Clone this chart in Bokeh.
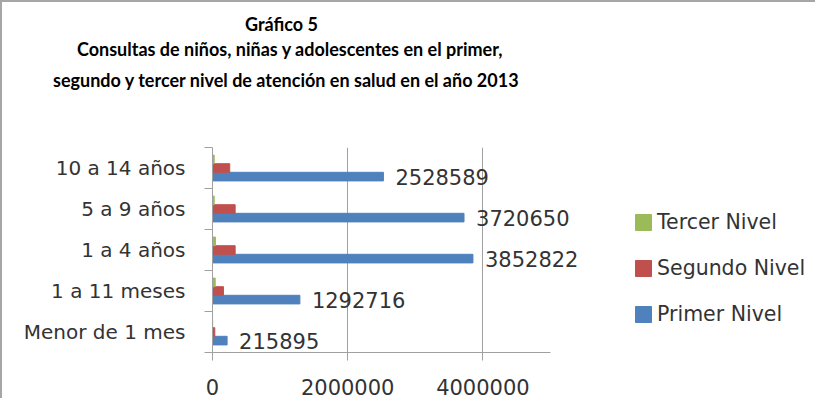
from bokeh.plotting import figure
from bokeh.models import (ColumnDataSource, Range1d, FixedTicker, NumeralTickFormatter,
                          Legend, LegendItem, LabelSet, Title)
from bokeh.core.properties import value
from bokeh.embed import file_html
from bokeh.resources import INLINE

categories = ["Menor de 1 mes", "1 a 11 meses", "1 a 4 años", "5 a 9 años", "10 a 14 años"]
primer_nivel = [215895, 1292716, 3852822, 3720650, 2528589]
segundo_nivel = [34000, 162000, 335000, 335000, 255000]
tercer_nivel = [2000, 40000, 45000, 25000, 25000]
x_ticks = [0, 2000000, 4000000]
x_max = 5000000
title_lines = ["Gráfico 5",
               "Consultas de niños, niñas y adolescentes en el primer,",
               "segundo y tercer nivel de atención en salud en el año 2013"]

BLUE, RED, GREEN = "#4F81BD", "#C0504D", "#9BBB59"
GRAY = "#a0a0a0"
TXT = "#333333"
FONT = "DejaVu Sans"
TFONT = "Lato"

# layout (pixels)
W, H = 815, 398
LEFT, TOP, BOTTOM = 210, 145, 48
AXIS_W = 338          # width of the value axis (0 .. x_max)
frame_w = W - LEFT

idx = list(range(len(categories)))
bar_h = 0.21
src = ColumnDataSource(dict(
    cat=categories,
    y1=[i + 0.5 - bar_h for i in idx],
    y2=[i + 0.5 for i in idx],
    y3=[i + 0.5 + bar_h for i in idx],
    primer=primer_nivel,
    segundo=segundo_nivel,
    tercer=tercer_nivel,
    lbl=[str(v) for v in primer_nivel],
))

p = figure(width=W, height=H, output_backend="svg", toolbar_location=None,
           x_range=Range1d(0, x_max * frame_w / AXIS_W), y_range=Range1d(0, len(categories)),
           min_border_left=LEFT, min_border_right=0, min_border_top=TOP, min_border_bottom=BOTTOM,
           styles={"border-top": "2px solid #a6a6a6", "border-left": "2px solid #a6a6a6"})
p.outline_line_color = None
p.background_fill_color = "white"
p.border_fill_color = "white"

r1 = p.hbar(y="y1", left=0, right="primer", height=bar_h, source=src, color=BLUE)
r2 = p.hbar(y="y2", left=0, right="segundo", height=bar_h, source=src, color=RED)
r3 = p.hbar(y="y3", left=0, right="tercer", height=bar_h, source=src, color=GREEN)

labels = LabelSet(x="primer", y="y1", text="lbl", source=src, x_offset=12,
                  text_baseline="middle", text_font=value(FONT),
                  text_font_size=value("21px"), text_color=TXT)
p.add_layout(labels)

# x axis
xa = p.xaxis[0]
xa.ticker = FixedTicker(ticks=x_ticks)
xa.formatter = NumeralTickFormatter(format="0")
xa.bounds = (0, x_max)
xa.axis_line_color = GRAY
xa.major_tick_line_color = GRAY
xa.major_tick_out = 8
xa.major_tick_in = 0
xa.minor_tick_line_color = None
xa.major_label_standoff = 18
xa.major_label_text_font = FONT
xa.major_label_text_font_size = "21px"
xa.major_label_text_color = TXT

# y axis
ya = p.yaxis[0]
ya.ticker = FixedTicker(ticks=[i + 0.5 for i in idx], minor_ticks=list(range(len(categories) + 1)))
ya.major_label_overrides = {i + 0.5: c for i, c in zip(idx, categories)}
ya.axis_line_color = GRAY
ya.major_tick_out = 0
ya.major_tick_in = 0
ya.major_tick_line_color = None
ya.minor_tick_line_color = GRAY
ya.minor_tick_out = 8
ya.minor_tick_in = 0
ya.major_label_standoff = 19
ya.major_label_text_font = FONT
ya.major_label_text_font_size = "20px"
ya.major_label_text_color = TXT

p.xgrid.ticker = FixedTicker(ticks=x_ticks)
p.xgrid.grid_line_color = GRAY
p.ygrid.grid_line_color = None

legend = Legend(items=[
    LegendItem(label="Tercer Nivel", renderers=[r3]),
    LegendItem(label="Segundo Nivel", renderers=[r2]),
    LegendItem(label="Primer Nivel", renderers=[r1]),
], location=(421, 26))
legend.border_line_color = None
legend.background_fill_alpha = 0
legend.padding = 0
legend.margin = 0
legend.glyph_width = 20
legend.glyph_height = 20
legend.label_height = 24
legend.spacing = 22
legend.label_standoff = 4
legend.label_text_font = FONT
legend.label_text_font_size = "20.5px"
legend.label_text_color = TXT
p.add_layout(legend)

# spacer between plot and title, then title lines (each new one stacks further up)
p.add_layout(Title(text=" ", standoff=26, text_font=TFONT, text_font_size="17px"), "above")
for txt, off, so in zip(reversed(title_lines), [-159.5, -135.5, 32.5], [13, 2, 0]):
    p.add_layout(Title(text=txt, align="left", offset=off, standoff=so, vertical_align="middle",
                       text_font=TFONT, text_font_style="bold",
                       text_font_size="18px", text_color="black"), "above")

open("out.html", "w").write(file_html(p, INLINE))
